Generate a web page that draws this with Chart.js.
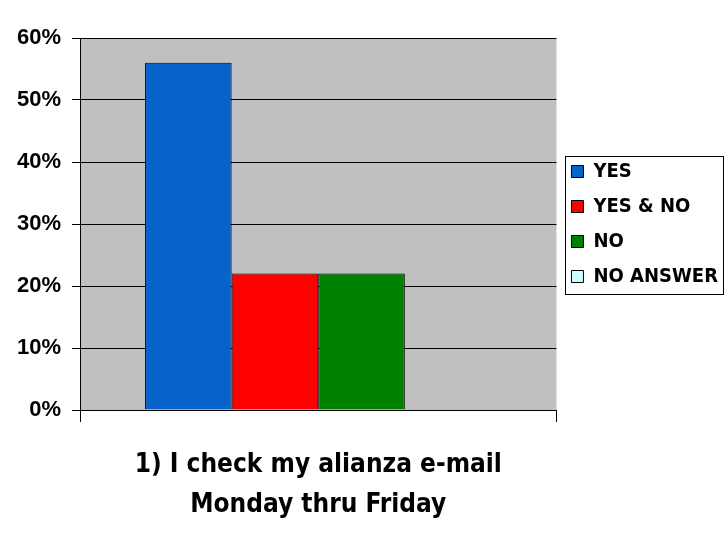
<!DOCTYPE html>
<html lang="en">
<head>
    <meta charset="UTF-8">
    <title>alianza e-mail</title>
    <script src="https://cdn.jsdelivr.net/npm/chart.js"></script>
    <style>
        html, body { margin: 0; padding: 0; background: #fff; }
    </style>
</head>
<body>
    <canvas id="chart" width="728" height="546"></canvas>
    <script>
        // data
        const categories = [''];
        const seriesNames = ['YES', 'YES & NO', 'NO', 'NO ANSWER'];
        const yesValues = [56];
        const yesNoValues = [22];
        const noValues = [22];
        const noAnswerValues = [0];
        const seriesColors = ['#0563C9', '#FF0000', '#008000', '#CCFFFF'];
        const yTicks = [0, 10, 20, 30, 40, 50, 60];
        const axisTitle = ['1) I check my alianza e-mail', 'Monday thru Friday'];

        // no Arial Narrow here, so use the condensed face of DejaVu Sans
        const narrow = "'DejaVu Sans', sans-serif";
        const narrowWeight = 'bold condensed';
        const wide = "'Liberation Sans', Arial, sans-serif";

        const allValues = [yesValues, yesNoValues, noValues, noAnswerValues];

        // gray plot background
        const plotBg = {
            id: 'plotBg',
            beforeDraw(chart) {
                const a = chart.chartArea;
                const ctx = chart.ctx;
                ctx.save();
                ctx.fillStyle = '#C0C0C0';
                ctx.fillRect(a.left, a.top, a.right - a.left, a.bottom - a.top);
                ctx.restore();
            }
        };

        // frame around the legend items
        const legendFrame = {
            id: 'legendFrame',
            afterDraw(chart) {
                const boxes = chart.legend.legendHitBoxes;
                if (!boxes || !boxes.length) return;
                const x0 = Math.min(...boxes.map(b => b.left)) - 6;
                const x1 = Math.max(...boxes.map(b => b.left + b.width)) + 5;
                const y0 = Math.min(...boxes.map(b => b.top)) - 6;
                const y1 = Math.max(...boxes.map(b => b.top + b.height)) + 7;
                const ctx = chart.ctx;
                ctx.save();
                ctx.strokeStyle = '#000';
                ctx.lineWidth = 1;
                ctx.strokeRect(Math.round(x0) + 0.5, Math.round(y0) + 0.5, Math.round(x1 - x0), Math.round(y1 - y0));
                ctx.restore();
            }
        };

        new Chart(document.getElementById('chart'), {
            type: 'bar',
            data: {
                labels: categories,
                datasets: seriesNames.map((name, i) => ({
                    label: name,
                    data: allValues[i],
                    backgroundColor: seriesColors[i],
                    borderColor: '#000',
                    borderWidth: 1,
                    barPercentage: 1,
                    categoryPercentage: 0.727
                }))
            },
            options: {
                responsive: false,
                animation: false,
                devicePixelRatio: 1,
                layout: { padding: { left: 6, right: 0, top: 38, bottom: 21 } },
                plugins: {
                    tooltip: { enabled: false },
                    legend: {
                        position: 'right',
                        fullSize: false,
                        labels: {
                            color: '#000',
                            font: { family: narrow, size: 20, weight: narrowWeight },
                            boxWidth: 12,
                            boxHeight: 12,
                            padding: 15
                        }
                    }
                },
                scales: {
                    x: {
                        offset: true,
                        grid: {
                            offset: true,
                            drawOnChartArea: false,
                            drawTicks: true,
                            tickLength: 12,
                            color: '#000'
                        },
                        border: { color: '#000', width: 1 },
                        ticks: { display: false },
                        title: {
                            display: true,
                            text: axisTitle,
                            color: '#000',
                            font: { family: narrow, size: 26, weight: narrowWeight, lineHeight: '40px' },
                            padding: { top: 23, bottom: 0 }
                        }
                    },
                    y: {
                        min: 0,
                        max: 60,
                        afterBuildTicks(axis) {
                            axis.ticks = yTicks.map(v => ({ value: v }));
                        },
                        grid: {
                            color: '#000',
                            drawTicks: true,
                            tickLength: 8
                        },
                        border: { color: '#000', width: 1 },
                        ticks: {
                            color: '#000',
                            padding: 11,
                            font: { family: wide, size: 22, weight: 'bold' },
                            callback: v => v + '%'
                        }
                    }
                }
            },
            plugins: [plotBg, legendFrame]
        });
    </script>
</body>
</html>
